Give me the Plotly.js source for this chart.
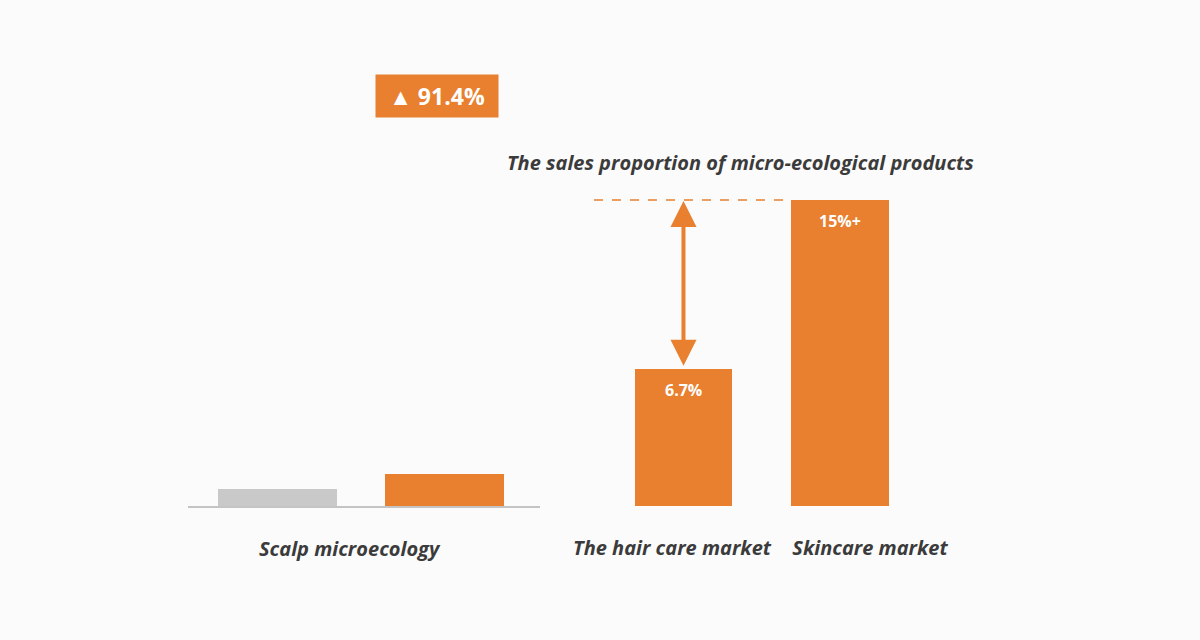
<!DOCTYPE html>
<html>
<head>
<meta charset="utf-8">
<script src="https://cdn.plot.ly/plotly-3.0.1.min.js"></script>
<style>
  html, body { margin: 0; padding: 0; background: #fbfbfb; }
  #plot { width: 1200px; height: 640px; }
</style>
</head>
<body>
<div id="plot"></div>
<script>
// scalp microecology: before / after (growth 91.4%)
const scalpCats = ["before", "after"];
const scalpValues = [0.83, 1.59];
const scalpColors = ["#c9c9c9", "#e8802f"];
const scalpLabel = "Scalp microecology";
const growthLabel = "▲ 91.4%";

// sales proportion of micro-ecological products
const marketCats = ["The hair care market", "Skincare market"];
const marketValues = [6.7, 15];
const marketText = ["6.7%", "15%+"];
const marketTitle = "The sales proportion of micro-ecological products";

const orange = "#e8802f";
const dark = "#3b3b3b";
const W = 1200, H = 640;
const labelFont = { family: "Open Sans, sans-serif", size: 20, color: dark, style: "italic", weight: 700 };

// pixel -> paper helpers (margins are zero)
function px(x) { return x / W; }
function py(y) { return 1 - y / H; }

const scalpTrace = {
  x: scalpCats,
  y: scalpValues,
  type: "bar",
  width: 0.713,
  marker: { color: scalpColors, line: { width: 0 } },
  xaxis: "x",
  yaxis: "y",
  hoverinfo: "skip"
};

const marketTrace = {
  x: marketCats,
  y: marketValues,
  type: "bar",
  width: 0.624,
  marker: { color: orange, line: { width: 0 } },
  xaxis: "x2",
  yaxis: "y",
  hoverinfo: "skip"
};

// value labels sit just inside the top of each market bar
const valueNotes = marketCats.map((c, i) => ({
  xref: "x2", yref: "y",
  x: c, y: marketValues[i],
  yanchor: "top",
  yshift: -8,
  text: marketText[i],
  showarrow: false,
  font: { family: "Open Sans, sans-serif", size: 16, color: "#ffffff", weight: 700 }
}));

var layout = {
  width: W,
  height: H,
  margin: { l: 0, r: 0, t: 0, b: 0 },
  paper_bgcolor: "#fbfbfb",
  plot_bgcolor: "rgba(0,0,0,0)",
  showlegend: false,
  bargap: 0,
  xaxis: {
    domain: [px(188), px(540)],
    range: [-0.536, 1.572],
    showline: true,
    linecolor: "#c4c4c4",
    linewidth: 2,
    showticklabels: false,
    showgrid: false,
    zeroline: false,
    ticks: ""
  },
  xaxis2: {
    domain: [px(590), px(940)],
    range: [-0.5955, 1.634],
    anchor: "y",
    showline: false,
    showgrid: false,
    zeroline: false,
    ticks: "",
    tickangle: 0,
    tickmode: "array",
    tickvals: [-0.073, 1.188],
    ticktext: marketCats,
    ticklabelstandoff: 28,
    tickfont: labelFont
  },
  yaxis: {
    domain: [py(506), 1],
    range: [0, 506 / 20.4],
    visible: false,
    showgrid: false,
    zeroline: false
  },
  shapes: [
    {
      type: "line",
      xref: "x2", yref: "y",
      x0: -0.57, x1: 0.64,
      y0: marketValues[1], y1: marketValues[1],
      line: { color: orange, width: 1.5, dash: "dash" }
    }
  ],
  annotations: valueNotes.concat([
    {
      // double arrow between the two market bars
      xref: "x2", yref: "y", axref: "x2", ayref: "y",
      x: marketCats[0], y: marketValues[1],
      ax: marketCats[0], ay: marketValues[0],
      text: "",
      showarrow: true,
      arrowside: "end+start",
      arrowhead: 2,
      arrowsize: 1.3,
      arrowwidth: 4,
      arrowcolor: orange,
      standoff: 1,
      startstandoff: 2
    },
    {
      xref: "paper", yref: "paper",
      x: px(740), y: py(162),
      xanchor: "center", yanchor: "middle",
      text: marketTitle,
      showarrow: false,
      font: labelFont
    },
    {
      xref: "paper", yref: "paper",
      x: px(350), y: py(548),
      xanchor: "center", yanchor: "middle",
      text: scalpLabel,
      showarrow: false,
      font: labelFont
    },
    {
      xref: "paper", yref: "paper",
      x: px(437), y: py(96),
      xanchor: "center", yanchor: "middle",
      text: growthLabel,
      showarrow: false,
      bgcolor: orange,
      width: 122,
      height: 42,
      borderpad: 0,
      font: { family: "Open Sans, sans-serif", size: 23, color: "#ffffff", weight: 700 }
    }
  ])
};

Plotly.newPlot("plot", [scalpTrace, marketTrace], layout, { staticPlot: true, displayModeBar: false });
</script>
</body>
</html>
